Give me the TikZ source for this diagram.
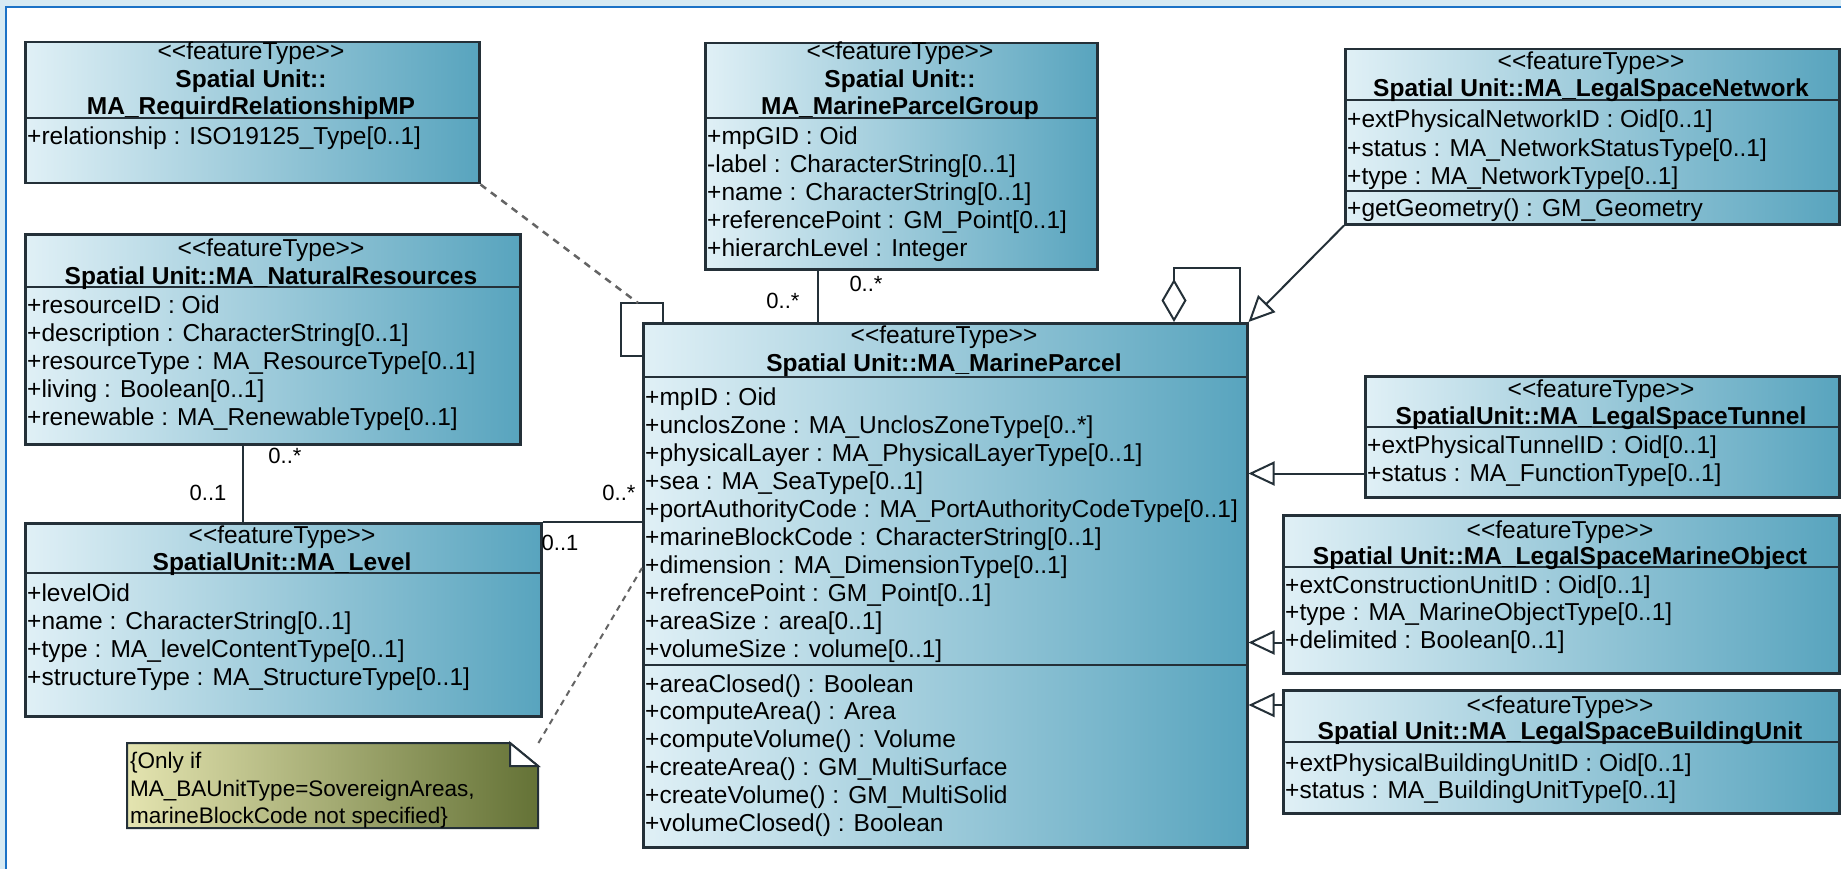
\documentclass[tikz,border=0pt]{standalone}
\usepackage{fontspec}
\setmainfont{Liberation Sans}
\usetikzlibrary{arrows.meta,calc}
\definecolor{frameblue}{RGB}{27,114,198}
\definecolor{bandblue}{RGB}{214,234,243}
\definecolor{boxL}{RGB}{224,240,246}
\definecolor{boxR}{RGB}{88,164,190}
\definecolor{edgec}{RGB}{36,48,56}
\definecolor{noteL}{RGB}{228,228,176}
\definecolor{noteR}{RGB}{100,114,54}
\definecolor{dashgray}{RGB}{100,100,100}
\newcommand\stt{{<}{<}featureType{>}{>}}
\tikzset{
 umlbox/.style={draw=edgec, line width=2.5pt, left color=boxL, right color=boxR, rectangle, inner sep=0pt, anchor=north west},
 sepline/.style={draw=edgec, line width=2.5pt},
 stereo/.style={anchor=base, inner sep=0pt, font=\fontsize{24.5}{28}\selectfont},
 title/.style={anchor=base, inner sep=0pt, font=\fontsize{24.5}{28}\selectfont\bfseries},
 attr/.style={anchor=base west, inner sep=0pt, font=\fontsize{24.5}{28}\selectfont},
 notetext/.style={anchor=base west, inner sep=0pt, font=\fontsize{22.5}{28}\selectfont},
 mult/.style={inner sep=0pt, font=\fontsize{22}{26}\selectfont},
 assoc/.style={draw=edgec, line width=2pt},
 gen/.style={draw=edgec, line width=2pt, -{Triangle[open, length=26pt, width=24pt, line width=2pt]}},
 dep/.style={draw=dashgray, line width=2.5pt, dash pattern=on 7pt off 6pt},
}
\begin{document}
\begin{tikzpicture}[x=1pt,y=-1pt]
\useasboundingbox (0,0) rectangle (1841,869);
\fill[bandblue] (0,0) rectangle (1841,869);
\fill[white] (7,8) rectangle (1841,869);
\draw[frameblue, line width=2.5pt] (6,869) -- (6,7) -- (1841,7);

% ---------- MA_RequirdRelationshipMP
\node[umlbox, minimum width=454pt, minimum height=141pt] (rr) at (24,41) {};
\draw[sepline] (24,118) -- (478,118);
\node[stereo] (rr-s) at (251,60) {\stt};
\node[title] (rr-t1) at (251,88) {Spatial Unit::};
\node[title] (rr-t2) at (251,115) {MA\_RequirdRelationshipMP};
\node[attr] (rr-a0) at (27,145) {+relationship : ISO19125\_Type[0..1]};

% ---------- MA_NaturalResources
\node[umlbox, minimum width=495pt, minimum height=210pt] (nr) at (24,233) {};
\draw[sepline] (24,287) -- (519,287);
\node[stereo] (nr-s) at (271,256) {\stt};
\node[title] (nr-t) at (271,284) {Spatial Unit::MA\_NaturalResources};
\foreach \t [count=\i from 0] in {{+resourceID : Oid},{+description : CharacterString[0..1]},{+resourceType : MA\_ResourceType[0..1]},{+living : Boolean[0..1]},{+renewable : MA\_RenewableType[0..1]}}
  \node[attr] (nr-a\i) at (27,{313+28*\i}) {\t};

% ---------- MA_Level
\node[umlbox, minimum width=516pt, minimum height=193pt] (lvl) at (24,522) {};
\draw[sepline] (24,573) -- (540,573);
\node[stereo] (lvl-s) at (282,543) {\stt};
\node[title] (lvl-t) at (282,570) {SpatialUnit::MA\_Level};
\foreach \t [count=\i from 0] in {{+levelOid},{+name : CharacterString[0..1]},{+type : MA\_levelContentType[0..1]},{+structureType : MA\_StructureType[0..1]}}
  \node[attr] (lvl-a\i) at (27,{601+28*\i}) {\t};

% ---------- Note
\path[draw=edgec, line width=2pt, left color=noteL, right color=noteR] (127,743) -- (510,743) -- (538,766) -- (538,828) -- (127,828) -- cycle;
\path[draw=edgec, line width=2pt, fill=white] (510,743) -- (510,766) -- (538,766) -- cycle;
\node[rectangle, inner sep=0pt, minimum width=411pt, minimum height=85pt, anchor=north west] (note) at (127,743) {};
\node[notetext] (note-1) at (130,768) {\{Only if};
\node[notetext] (note-2) at (130,796) {MA\_BAUnitType=SovereignAreas,};
\node[notetext] (note-3) at (130,823) {marineBlockCode not specified\}};

% ---------- MA_MarineParcelGroup
\node[umlbox, minimum width=392pt, minimum height=226pt] (mpg) at (704,42) {};
\draw[sepline] (704,118) -- (1096,118);
\node[stereo] (mpg-s) at (900,60) {\stt};
\node[title] (mpg-t1) at (900,88) {Spatial Unit::};
\node[title] (mpg-t2) at (900,115) {MA\_MarineParcelGroup};
\foreach \t [count=\i from 0] in {{+mpGID : Oid},{-label : CharacterString[0..1]},{+name : CharacterString[0..1]},{+referencePoint : GM\_Point[0..1]},{+hierarchLevel : Integer}}
  \node[attr] (mpg-a\i) at (707,{145+27.8*\i}) {\t};

% ---------- MA_MarineParcel
\node[umlbox, minimum width=604pt, minimum height=524pt] (mp) at (642,322) {};
\draw[sepline] (642,377) -- (1246,377);
\draw[sepline] (642,665) -- (1246,665);
\node[stereo] (mp-s) at (944,343) {\stt};
\node[title] (mp-t) at (944,371) {Spatial Unit::MA\_MarineParcel};
\foreach \t [count=\i from 0] in {{+mpID : Oid},{+unclosZone : MA\_UnclosZoneType[0..*]},{+physicalLayer : MA\_PhysicalLayerType[0..1]},{+sea : MA\_SeaType[0..1]},{+portAuthorityCode : MA\_PortAuthorityCodeType[0..1]},{+marineBlockCode : CharacterString[0..1]},{+dimension : MA\_DimensionType[0..1]},{+refrencePoint : GM\_Point[0..1]},{+areaSize : area[0..1]},{+volumeSize : volume[0..1]}}
  \node[attr] (mp-a\i) at (645,{405+28.1*\i}) {\t};
\foreach \t [count=\i from 0] in {{+areaClosed() : Boolean},{+computeArea() : Area},{+computeVolume() : Volume},{+createArea() : GM\_MultiSurface},{+createVolume() : GM\_MultiSolid},{+volumeClosed() : Boolean}}
  \node[attr] (mp-o\i) at (645,{692+27.9*\i}) {\t};

% ---------- MA_LegalSpaceNetwork
\node[umlbox, minimum width=494pt, minimum height=175pt] (lsn) at (1344,48) {};
\draw[sepline] (1344,100) -- (1838,100);
\draw[sepline] (1344,191) -- (1838,191);
\node[stereo] (lsn-s) at (1591,70) {\stt};
\node[title] (lsn-t) at (1591,97) {Spatial Unit::MA\_LegalSpaceNetwork};
\foreach \t [count=\i from 0] in {{+extPhysicalNetworkID : Oid[0..1]},{+status : MA\_NetworkStatusType[0..1]},{+type : MA\_NetworkType[0..1]}}
  \node[attr] (lsn-a\i) at (1347,{128+28.5*\i}) {\t};
\node[attr] (lsn-o0) at (1347,216) {+getGeometry() : GM\_Geometry};

% ---------- MA_LegalSpaceTunnel
\node[umlbox, minimum width=474pt, minimum height=121pt] (lst) at (1364,375) {};
\draw[sepline] (1364,427) -- (1838,427);
\node[stereo] (lst-s) at (1601,397) {\stt};
\node[title] (lst-t) at (1601,424) {SpatialUnit::MA\_LegalSpaceTunnel};
\foreach \t [count=\i from 0] in {{+extPhysicalTunnelID : Oid[0..1]},{+status : MA\_FunctionType[0..1]}}
  \node[attr] (lst-a\i) at (1367,{453+28*\i}) {\t};

% ---------- MA_LegalSpaceMarineObject
\node[umlbox, minimum width=556pt, minimum height=158pt] (lsmo) at (1282,514) {};
\draw[sepline] (1282,567) -- (1838,567);
\node[stereo] (lsmo-s) at (1560,538) {\stt};
\node[title] (lsmo-t) at (1560,564) {Spatial Unit::MA\_LegalSpaceMarineObject};
\foreach \t [count=\i from 0] in {{+extConstructionUnitID : Oid[0..1]},{+type : MA\_MarineObjectType[0..1]},{+delimited : Boolean[0..1]}}
  \node[attr] (lsmo-a\i) at (1285,{593+27.5*\i}) {\t};

% ---------- MA_LegalSpaceBuildingUnit
\node[umlbox, minimum width=556pt, minimum height=123pt] (lsbu) at (1282,689) {};
\draw[sepline] (1282,742) -- (1838,742);
\node[stereo] (lsbu-s) at (1560,713) {\stt};
\node[title] (lsbu-t) at (1560,739) {Spatial Unit::MA\_LegalSpaceBuildingUnit};
\foreach \t [count=\i from 0] in {{+extPhysicalBuildingUnitID : Oid[0..1]},{+status : MA\_BuildingUnitType[0..1]}}
  \node[attr] (lsbu-a\i) at (1285,{771+27*\i}) {\t};

% ---------- connector end points
\coordinate (nrlv) at ($(nr.south west)+(219,0)$);
\coordinate (mpgp) at ($(mpg.south west)+(114,0)$);
\coordinate (lstp) at ($(lst.south west)+(0,-25)$);
\coordinate (lsmop) at ($(lsmo.south west)+(0,-32)$);
\coordinate (lsbup) at ($(lsbu.north west)+(0,16)$);
\coordinate (loopA) at ($(mp.north west)+(21,0)$);
\coordinate (loopB) at ($(mp.north west)+(-21,-19)$);
\coordinate (loopC) at ($(mp.north west)+(0,34)$);
\coordinate (looptop) at ($(mp.north west)+(-4,-19)$);
\coordinate (aggA) at ($(mp.north west)+(532,0)$);
\coordinate (aggB) at ($(mp.north east)+(-9,-54)$);
\coordinate (aggC) at ($(mp.north east)+(-9,0)$);
\coordinate (notep) at ($(mp.north west)+(0,246)$);

% NR -- Level
\draw[assoc] (nrlv) -- (nrlv |- lvl.north);
\node[mult] (m1) at (285,456) {0..*};
\node[mult] (m2) at (208,493) {0..1};
% Level -- MP
\draw[assoc] (lvl.north east) -- (lvl.north east -| mp.west);
\node[mult] (m3) at (560,543) {0..1};
\node[mult] (m4) at (619,493) {0..*};
% MPG -- MP
\draw[assoc] (mpgp) -- (mpgp |- mp.north);
\node[mult] (m5) at (866,284) {0..*};
\node[mult] (m6) at (783,301) {0..*};
% MP self association (left) with association class RR
\draw[assoc] (loopA) |- (loopB) |- (loopC);
\draw[dep] (rr.south east) -- (looptop);
% MP self aggregation (top)
\draw[assoc, {Diamond[open, length=43pt, width=25pt, line width=2pt]}-] (aggA) |- (aggB) -- (aggC);
% generalizations
\draw[gen] (lsn.south west) -- (mp.north east);
\draw[gen] (lstp) -- (lstp -| mp.east);
\draw[gen] (lsmop) -- (lsmop -| mp.east);
\draw[gen] (lsbup) -- (lsbup -| mp.east);
% note anchor
\draw[dep, line width=2pt, dash pattern=on 6pt off 5pt] (note.north east) -- (notep);
\end{tikzpicture}
\end{document}
